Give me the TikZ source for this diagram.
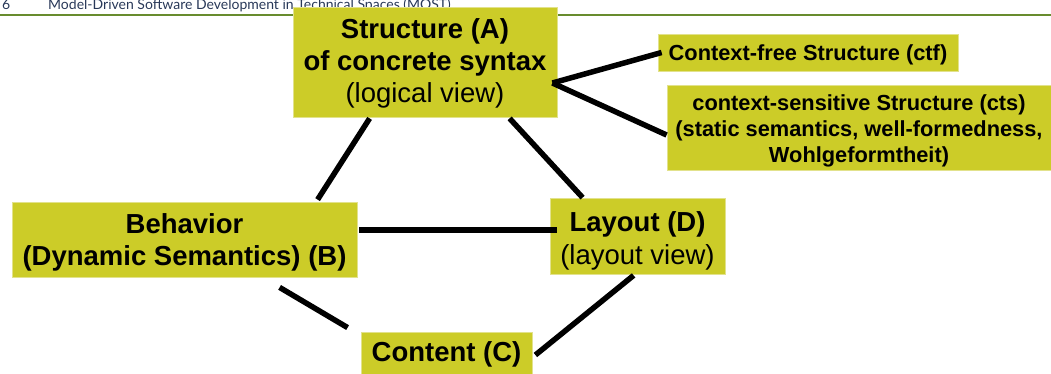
\documentclass[tikz,border=0pt]{standalone}
\usepackage{fontspec}
\setmainfont{Liberation Sans}
\newfontfamily\hdrfont{Lato}
\definecolor{boxfill}{RGB}{204,204,40}
\definecolor{boxedge}{RGB}{226,226,140}
\definecolor{hdrgreen}{RGB}{104,140,46}
\definecolor{hdrtext}{RGB}{40,56,88}
\newcommand\mytopstrut[1]{\rule{0pt}{#1}}
\tikzset{
  box/.style={fill=boxfill, draw=boxedge, line width=0.8pt, inner sep=0pt, align=center, text=black},
  bigtext/.style={font=\fontsize{27.5}{32}\selectfont},
  smalltext/.style={font=\fontsize{21.8}{26}\selectfont\bfseries},
  link/.style={line width=5.5pt, black},
  hdr/.style={font=\fontsize{14}{16}\selectfont\hdrfont, text=hdrtext, inner sep=0pt, anchor=base west}
}
\begin{document}
\begin{tikzpicture}[x=1pt,y=-1pt]
\useasboundingbox (0,0) rectangle (1051,374);
% header
\node[hdr] (pagenum) at (2,10) {6};
\node[hdr] (title) at (48,10) {Model-Driven Software Development in Technical Spaces (MOST)};
\coordinate (rulel) at (0,15);
\coordinate (ruler) at (1051,15);
\draw[hdrgreen, line width=2.5pt] (rulel) -- (ruler);
% boxes
\node[box, bigtext, minimum width=264pt, minimum height=110pt] (A) at (425,62)
  {\mytopstrut{23pt}\bfseries Structure (A)\\ \bfseries of concrete syntax\\ (logical view)};
\node[box, smalltext, minimum width=300pt, minimum height=37pt] (ctf) at (808,52.5)
  {\mytopstrut{21.5pt}Context-free Structure (ctf)};
\node[box, smalltext, minimum width=384pt, minimum height=85pt] (cts) at (859,127.5)
  {\mytopstrut{23.5pt}context-sensitive Structure (cts)\\ (static semantics, well-formedness,\\ Wohlgeformtheit)};
\node[box, bigtext, minimum width=345pt, minimum height=75pt] (B) at (184.5,239.5)
  {\mytopstrut{24.8pt}\bfseries Behavior\\ \bfseries (Dynamic Semantics) (B)};
\node[box, bigtext, minimum width=175pt, minimum height=76pt] (D) at (637.5,236)
  {\mytopstrut{30pt}\bfseries Layout (D)\\[1pt] (layout view)};
\node[box, bigtext, minimum width=171pt, minimum height=44pt] (C) at (446.5,354)
  {\bfseries Content (C)};
% connectors
\draw[link] ([xshift=77pt,yshift=-1pt]A.south west) -- ([xshift=306pt,yshift=2pt]B.north west);
\draw[link] ([xshift=217pt,yshift=-1pt]A.south west) -- ([xshift=33pt]D.north west);
\draw[link] ([xshift=2pt,yshift=9.5pt]B.east) -- ([xshift=7pt,yshift=6pt]D.west);
\draw[link] ([xshift=268pt,yshift=-10pt]B.south west) -- ([xshift=-13pt,yshift=4pt]C.north west);
\draw[link] ([xshift=84pt,yshift=-1pt]D.south west) -- ([xshift=3pt,yshift=-1pt]C.east);
\draw[link] ([xshift=-5pt,yshift=-21pt]A.east) -- ([xshift=4pt]ctf.west);
\draw[link] ([xshift=-5pt,yshift=-21pt]A.east) -- ([yshift=-7.5pt]cts.west);
\end{tikzpicture}
\end{document}
